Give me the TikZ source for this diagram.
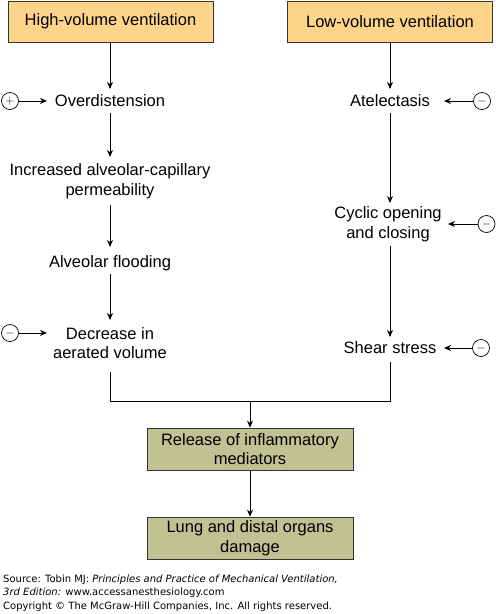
\documentclass[tikz,border=0pt]{standalone}
\usepackage{fontspec}
\setmainfont{Liberation Sans}
\newfontfamily\footfont{DejaVu Sans}
\usetikzlibrary{arrows.meta}
\definecolor{topfill}{RGB}{254,212,138}
\definecolor{botfill}{RGB}{192,194,148}
\tikzset{
  x=1pt,y=-1pt,
  lbl/.style={font=\fontsize{16.5}{19.8}\selectfont, align=center, inner sep=1pt},
  topbox/.style={draw=black!80, line width=0.8pt, fill=topfill, minimum width=205pt, minimum height=41pt, font=\fontsize{16.5}{19.8}\selectfont, align=center},
  botbox/.style={draw=black!80, line width=0.8pt, fill=botfill, minimum width=206pt, minimum height=42pt, font=\fontsize{16.5}{19.8}\selectfont, align=center, inner sep=1pt},
  sign/.style={circle, draw, line width=0.7pt, minimum size=17pt, inner sep=0pt, font=\fontsize{13}{13}\selectfont},
  arr/.style={-{Stealth[length=7pt,width=6pt]}, line width=0.8pt},
  ln/.style={line width=0.8pt},
  foot/.style={font=\footfont\fontsize{10}{12}\selectfont, anchor=west, inner sep=0pt}
}
\begin{document}
\begin{tikzpicture}
\useasboundingbox (0,0) rectangle (496,614);
% top boxes
\node[topbox] (hv) at (110.5,21.5) {High-volume ventilation};
\node[topbox] (lv) at (390,21.5) {Low-volume ventilation};
% left column
\node[lbl] (od) at (110,101) {Overdistension};
\node[lbl] (ia) at (110,181.5) {Increased alveolar-capillary\\permeability};
\node[lbl] (af) at (110,263) {Alveolar flooding};
\node[lbl] (dv) at (110,343) {Decrease in\\aerated volume};
% right column
\node[lbl] (at) at (390,101) {Atelectasis};
\node[lbl] (co) at (388,224) {Cyclic opening\\and closing};
\node[lbl] (ss) at (390,348) {Shear stress};
% bottom boxes
\node[botbox] (rm) at (250,449) {Release of inflammatory\\mediators};
\node[botbox] (ld) at (250,538) {Lung and distal organs\\damage};
% signs
\node[sign] (p1) at (10,101) {$+$};
\node[sign] (m1) at (10,333) {$-$};
\node[sign] (m2) at (482,101) {$-$};
\node[sign] (m3) at (486.5,224) {$-$};
\node[sign] (m4) at (481,348) {$-$};
% coordinates
\coordinate (od1) at (47,101);
\coordinate (dv1) at (47,333);
\coordinate (at1) at (444,101);
\coordinate (co1) at (448,224);
\coordinate (ss1) at (444,348);
\coordinate (lj) at (110,401);
\coordinate (rj) at (390,401);
\coordinate (mj) at (250,401);
% arrows left
\draw[arr] (110,42) -- (110,89);
\draw[arr] (110,113) -- (110,157);
\draw[arr] (110,205) -- (110,247);
\draw[arr] (110,274) -- (110,320);
% arrows right
\draw[arr] (390,42) -- (390,89);
\draw[arr] (390,113) -- (390,203);
\draw[arr] (390,246) -- (390,337);
% side arrows
\draw[arr] (p1) -- (od1);
\draw[arr] (m1) -- (dv1);
\draw[arr] (m2) -- (at1);
\draw[arr] (m3) -- (co1);
\draw[arr] (m4) -- (ss1);
% join
\draw[ln] (110,372) -- (lj) -- (rj) -- (390,362);
\draw[arr] (mj) -- (rm.north);
\draw[arr] (rm.south) -- (ld.north);
% footer
\node[foot] (f1) at (3,580) {Source: Tobin MJ: \textit{Principles and Practice of Mechanical Ventilation,}};
\node[foot] (f2) at (3,593) {\textit{3rd Edition:} www.accessanesthesiology.com};
\node[foot] (f3) at (3,607) {Copyright \textcopyright{} The McGraw-Hill Companies, Inc. All rights reserved.};
\end{tikzpicture}
\end{document}
